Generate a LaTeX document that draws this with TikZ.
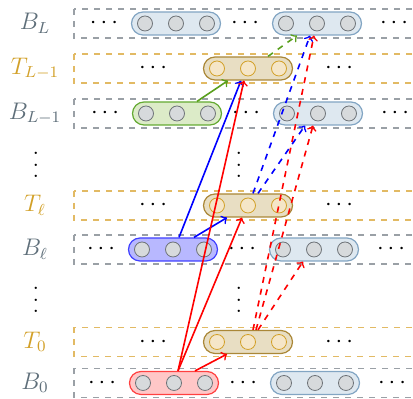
\documentclass[tikz,border=0pt]{standalone}
\usepackage{xcolor}
\usepackage{tikz}
\usetikzlibrary{calc,shapes.misc}

\definecolor{boxgray}{HTML}{9AA0A6}
\definecolor{labgray}{HTML}{5F6F7A}
\definecolor{tgold}{HTML}{D2A028}
\definecolor{tboxgold}{HTML}{E2BA64}
\definecolor{pillblue}{HTML}{82A5C3}
\definecolor{pillbluefill}{HTML}{DEE8F0}
\definecolor{dotgray}{HTML}{6E7378}
\definecolor{dotgrayfill}{HTML}{D7DADC}
\definecolor{tpill}{HTML}{AA8737}
\definecolor{tpillfill}{HTML}{E8DEC3}
\definecolor{tdotfill}{HTML}{F5E6C8}
\definecolor{gpill}{HTML}{64AA32}
\definecolor{gpillfill}{HTML}{DCEBC8}
\definecolor{garrow}{HTML}{5AA01E}

\newcommand{\colvdots}{\vbox{\baselineskip5.75pt\lineskiplimit0pt\kern4pt\hbox{.}\hbox{.}\hbox{.}}}

\begin{document}
\begin{tikzpicture}[x=0.5pt,y=-0.5pt,
  lab/.style={font=\large},
  bbox/.style={draw=boxgray,dashed,thick},
  tbox/.style={draw=tboxgold,dashed,thick},
  pill/.style={rounded rectangle,minimum width=44.5pt,minimum height=11.5pt,inner sep=0pt,semithick},
  bpill/.style={pill,draw=pillblue,fill=pillbluefill},
  gpill/.style={pill,draw=gpill,fill=gpillfill},
  vpill/.style={pill,draw=blue!75,fill=blue!28},
  rpill/.style={pill,draw=red!75,fill=red!22},
  tpill/.style={pill,draw=tpill,fill=tpillfill},
  bdot/.style={circle,minimum size=7.5pt,inner sep=0pt,draw=dotgray,fill=dotgrayfill},
  tdot/.style={circle,minimum size=7.5pt,inner sep=0pt,draw=tgold,fill=tdotfill},
  arr/.style={->,thick}]

\useasboundingbox (0,0) rectangle (413,399);
\clip (0,0) rectangle (413,399);

% B rows
\foreach \n/\y/\t/\s/\d in {BL/23.5/{L}/bpill/0, BLm/113.5/{L-1}/gpill/1, Bl/249.5/{\ell}/vpill/-3, B0/383/{0}/rpill/-2}{
  \draw[bbox] (74,\y-14.5) rectangle (430,\y+14.5);
  \node[lab,text=labgray] (\n lab) at (35,\y) {$B_{\t}$};
  \node[lab] (\n d1) at (104+\d,\y) {$\cdots$};
  \node[lab] (\n d2) at (245+\d,\y) {$\cdots$};
  \node[lab] (\n d3) at (394+\d,\y) {$\cdots$};
  \node[\s] (\n a) at (176+\d,\y) {};
  \node[bpill] (\n b) at (317+\d,\y) {};
  \foreach \k in {-1,0,1}{
    \node[bdot] (\n a\k) at (176+\d+31*\k,\y) {};
    \node[bdot] (\n b\k) at (317+\d+31*\k,\y) {};
  }
}

% T rows
\foreach \n/\y/\t in {TLm/68.5/{L-1}, Tl/205.5/{\ell}, T0/342/{0}}{
  \draw[tbox] (74,\y-14.5) rectangle (430,\y+14.5);
  \node[lab,text=tgold] (\n lab) at (35,\y) {$T_{\t}$};
  \node[lab] (\n d1) at (153,\y) {$\cdots$};
  \node[lab] (\n d2) at (339,\y) {$\cdots$};
  \node[tpill] (\n) at (248,\y) {};
  \foreach \k in {-1,0,1}
    \node[tdot] (\n c\k) at (248+31*\k,\y) {};
}

\node[lab] (vd1) at (36,161) {\colvdots};
\node[lab] (vd2) at (239,161) {\colvdots};
\node[lab] (vd3) at (36,296) {\colvdots};
\node[lab] (vd4) at (239,296) {\colvdots};

\draw[arr,garrow] ($(BLma.north)+(20,0)$) -- ($(TLm.south)+(-20,0)$);
\draw[arr,garrow,dashed] ($(TLm.north)+(20,0)$) -- ($(BLb.south)+(-20,0)$);

\draw[arr,blue] ($(Bla.north)+(6,0)$) -- ($(TLm.south)+(-7,0)$);
\draw[arr,blue] ($(Bla.north)+(21,0)$) -- ($(Tl.south)+(-21,0)$);
\draw[arr,blue,dashed] ($(Tl.north)+(5,0)$) -- ($(BLb.south)+(-7,0)$);
\draw[arr,blue,dashed] ($(Tl.north)+(10,0)$) -- ($(BLmb.south)+(-13,0)$);

\draw[arr,red] ($(B0a.north)+(4,0)$) -- ($(TLm.south)+(-4,0)$);
\draw[arr,red] ($(B0a.north)+(4,0)$) -- ($(Tl.south)+(-6,0)$);
\draw[arr,red] ($(B0a.north)+(21,0)$) -- ($(T0.south)+(-21,0)$);
\draw[arr,red,dashed] ($(T0.north)+(5,0)$) -- ($(BLb.south)+(-3,0)$);
\draw[arr,red,dashed] ($(T0.north)+(8,0)$) -- ($(BLmb.south)+(-5,0)$);
\draw[arr,red,dashed] ($(T0.north)+(10,0)$) -- ($(Blb.south)+(-11,0)$);
\end{tikzpicture}
\end{document}
